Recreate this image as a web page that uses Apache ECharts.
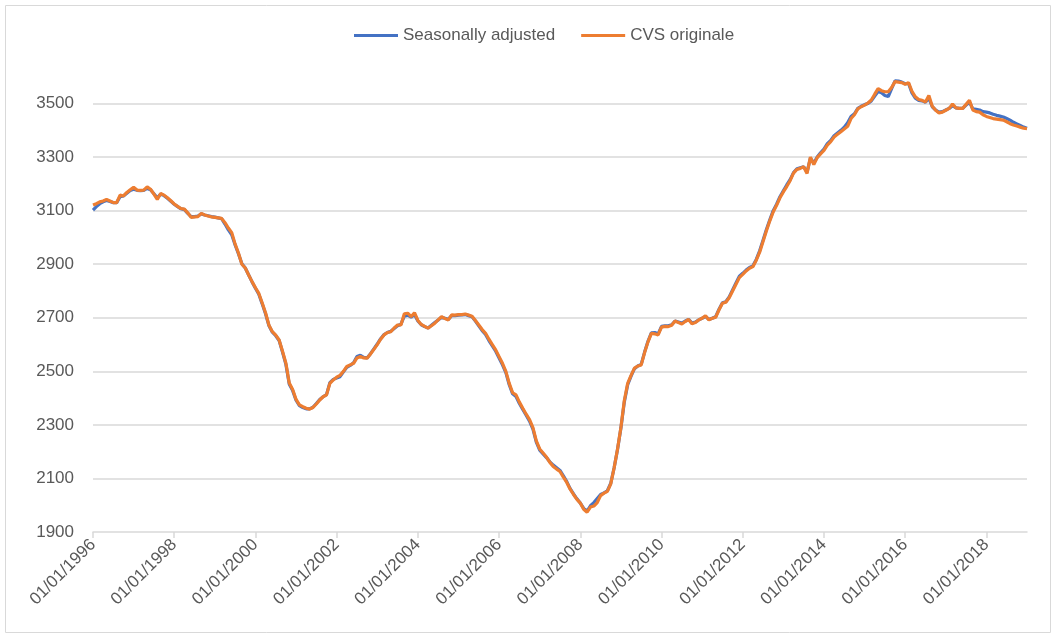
<!DOCTYPE html>
<html>
<head>
<meta charset="utf-8">
<script src="https://cdn.jsdelivr.net/npm/echarts@6/dist/echarts.min.js"></script>
<style>
  html, body { margin: 0; padding: 0; background: #fff; }
  #chart { width: 1053px; height: 635px; }
</style>
</head>
<body>
<div id="chart"></div>
<script>
// monthly values, Jan 1996 .. Jan 2019
var seasonallyAdjusted = [
  3102, 3115, 3126, 3133, 3138, 3134, 3130, 3130, 3152, 3155, 3165, 3175,
  3180, 3176, 3175, 3176, 3183, 3178, 3163, 3148, 3162, 3156, 3146, 3135,
  3124, 3115, 3107, 3104, 3090, 3078, 3078, 3080, 3088, 3084, 3081, 3078,
  3076, 3073, 3070, 3050, 3028, 3010, 2972, 2938, 2902, 2886, 2860, 2834,
  2810, 2788, 2752, 2714, 2670, 2646, 2633, 2615, 2572, 2526, 2452, 2428,
  2392, 2372, 2365, 2360, 2360, 2366, 2380, 2395, 2405, 2413, 2458, 2470,
  2475, 2480, 2498, 2515, 2522, 2532, 2555, 2560, 2552, 2550, 2566, 2584,
  2602, 2622, 2637, 2645, 2650, 2660, 2670, 2676, 2706, 2710, 2702, 2712,
  2688, 2674, 2667, 2662, 2672, 2682, 2692, 2702, 2698, 2694, 2708, 2708,
  2710, 2711, 2712, 2708, 2704, 2688, 2670, 2652, 2638, 2615, 2595, 2575,
  2550, 2524, 2495, 2450, 2416, 2406, 2380, 2358, 2336, 2314, 2284, 2236,
  2206, 2192, 2178, 2162, 2150, 2140, 2130, 2110, 2088, 2062, 2042, 2024,
  2008, 1988, 1978, 1998, 2010, 2025, 2040, 2046, 2054, 2082, 2140, 2208,
  2288, 2385, 2450, 2482, 2510, 2520, 2526, 2572, 2612, 2644, 2645, 2640,
  2668, 2670, 2670, 2674, 2688, 2684, 2680, 2688, 2694, 2680, 2684, 2692,
  2698, 2705, 2694, 2698, 2704, 2732, 2756, 2760, 2778, 2804, 2830, 2855,
  2866, 2878, 2888, 2894, 2918, 2950, 2990, 3030, 3066, 3100, 3124, 3152,
  3174, 3196, 3216, 3242, 3256, 3260, 3264, 3244, 3296, 3278, 3300, 3316,
  3330, 3350, 3362, 3380, 3390, 3400, 3412, 3428, 3452, 3462, 3482, 3490,
  3496, 3500, 3510, 3528, 3545, 3540, 3530, 3526, 3556, 3585, 3584, 3580,
  3574, 3575, 3540, 3520, 3512, 3510, 3505, 3520, 3488, 3476, 3468, 3470,
  3476, 3482, 3492, 3484, 3482, 3482, 3494, 3505, 3480, 3478, 3476, 3470,
  3468, 3465, 3460, 3456, 3453, 3450, 3444, 3438, 3430, 3424, 3418, 3412,
  3408
];

var cvsOriginale = [
  3121, 3126, 3133, 3136, 3142, 3136, 3130, 3130, 3158, 3155, 3168, 3178,
  3187, 3177, 3176, 3177, 3189, 3180, 3162, 3142, 3164, 3158, 3148, 3137,
  3125, 3116, 3108, 3106, 3092, 3075, 3077, 3078, 3090, 3084, 3080, 3077,
  3075, 3073, 3071, 3055, 3035, 3018, 2975, 2941, 2900, 2886, 2860, 2835,
  2812, 2791, 2755, 2718, 2672, 2648, 2635, 2617, 2575, 2530, 2456, 2432,
  2395, 2375, 2368, 2362, 2359, 2365, 2378, 2393, 2405, 2412, 2455, 2468,
  2478, 2485, 2500, 2518, 2524, 2530, 2550, 2555, 2550, 2549, 2565, 2582,
  2600, 2620, 2636, 2645, 2648, 2662, 2673, 2673, 2715, 2717, 2704, 2719,
  2690, 2675, 2668, 2661, 2670, 2680, 2692, 2704, 2697, 2692, 2711, 2710,
  2712, 2712, 2714, 2710, 2706, 2690, 2673, 2656, 2642, 2620, 2600, 2580,
  2555, 2530, 2500, 2455, 2420, 2412, 2385, 2362, 2340, 2320, 2290, 2240,
  2210, 2195, 2180, 2160, 2145, 2135, 2126, 2105, 2085, 2060, 2040, 2022,
  2008, 1985, 1974, 1993, 1997, 2010, 2036, 2045, 2052, 2080, 2140, 2210,
  2290, 2390, 2455, 2485, 2512, 2520, 2524, 2570, 2610, 2642, 2640, 2636,
  2665, 2668, 2667, 2672, 2688, 2682, 2677, 2686, 2694, 2678, 2682, 2692,
  2698, 2708, 2692, 2698, 2702, 2730, 2754, 2758, 2775, 2800, 2825, 2850,
  2862, 2875, 2885, 2891, 2915, 2945, 2985, 3025, 3062, 3095, 3120, 3148,
  3170, 3190, 3212, 3240, 3254, 3258, 3264, 3239, 3300, 3272, 3298, 3312,
  3325, 3345, 3358, 3375, 3385, 3395, 3405, 3415, 3444, 3458, 3480, 3488,
  3494, 3502, 3513, 3535, 3556, 3548, 3544, 3544, 3560, 3582, 3580, 3578,
  3572, 3578, 3546, 3525, 3515, 3512, 3506, 3530, 3490, 3475, 3465, 3468,
  3475, 3482, 3498, 3484, 3482, 3482, 3497, 3512, 3476, 3470, 3468, 3458,
  3452, 3448, 3444, 3442, 3440, 3438, 3432, 3425, 3420, 3416, 3412, 3408,
  3406
];

var seriesNames = ['Seasonally adjusted', 'CVS originale'];

// month labels dd/mm/yyyy
var dates = [];
for (var i = 0; i < cvsOriginale.length; i++) {
  var y = 1996 + Math.floor(i / 12);
  var m = (i % 12) + 1;
  dates.push('01/' + (m < 10 ? '0' + m : m) + '/' + y);
}

var font = '"Liberation Sans", Arial, sans-serif';
var myChart = echarts.init(document.getElementById('chart'));

var option = {
  animation: false,
  color: ['#4472C4', '#ED7D31'],
  textStyle: { fontFamily: font },
  graphic: [{
    type: 'rect',
    shape: { x: 5.5, y: 5.5, width: 1045, height: 627 },
    style: { fill: 'none', stroke: '#d9d9d9', lineWidth: 1 },
    silent: true
  }],
  legend: {
    top: 22,
    left: 349,
    icon: 'rect',
    itemWidth: 44,
    itemHeight: 3,
    itemGap: 26,
    textStyle: { color: '#595959', fontSize: 17, fontFamily: font },
    data: seriesNames
  },
  grid: {
    left: 93,
    right: 26,
    top: 50,
    bottom: 103,
    containLabel: false
  },
  xAxis: {
    type: 'category',
    boundaryGap: false,
    data: dates,
    axisLine: { lineStyle: { color: '#d9d9d9', width: 1.5 } },
    axisTick: { show: true, interval: 23, length: 6, lineStyle: { color: '#d9d9d9', width: 1.5 } },
    axisLabel: {
      interval: 23,
      rotate: 45,
      margin: 10,
      color: '#595959',
      fontSize: 17,
      fontFamily: font
    },
    splitLine: { show: false }
  },
  yAxis: {
    type: 'value',
    min: 1900,
    max: 3700,
    interval: 200,
    axisLine: { show: false },
    axisTick: { show: false },
    axisLabel: {
      color: '#595959',
      fontSize: 17,
      margin: 19,
      showMaxLabel: false,
      fontFamily: font,
      formatter: function(v) { return String(v); }
    },
    splitLine: {
      show: true,
      showMinLine: false,
      showMaxLine: false,
      lineStyle: { color: '#d9d9d9', width: 1.5 }
    }
  },
  series: [{
    name: seriesNames[0],
    type: 'line',
    data: seasonallyAdjusted,
    showSymbol: false,
    symbol: 'none',
    lineStyle: { width: 3.2, color: '#4472C4' }
  }, {
    name: seriesNames[1],
    type: 'line',
    data: cvsOriginale,
    showSymbol: false,
    symbol: 'none',
    lineStyle: { width: 3.2, color: '#ED7D31' }
  }]
};

myChart.setOption(option);
</script>
</body>
</html>
